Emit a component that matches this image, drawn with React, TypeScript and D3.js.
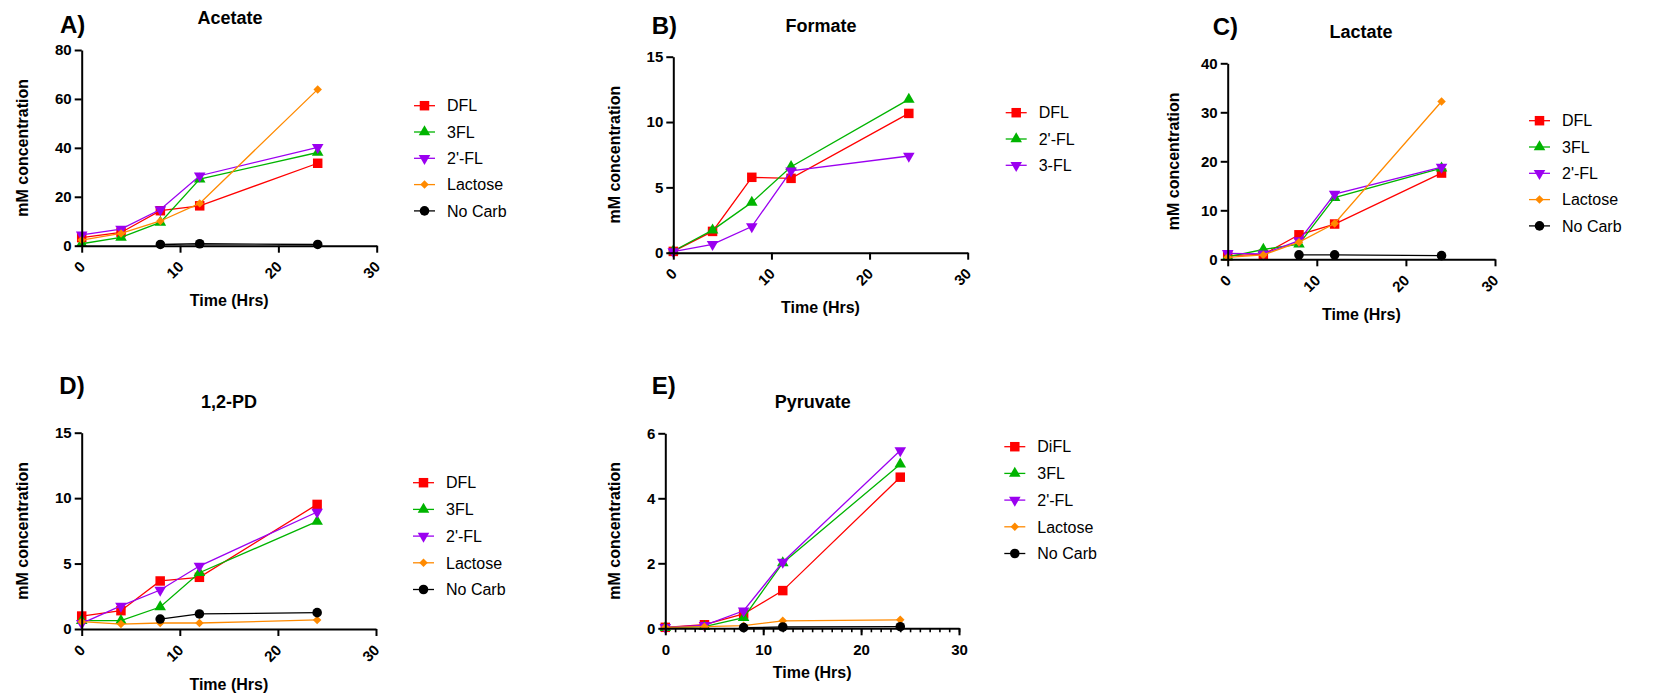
import React, { useEffect, useRef } from 'react';
import * as d3 from 'd3';

// sampling times (hours)
const times = [0, 4, 8, 12, 24];
const noCarbTimes = [8, 12, 24];
const xTicks = [0, 10, 20, 30];

// A) Acetate
const acetateDFL = [3.3, 5.4, 14.3, 16.3, 33.7];
const acetate3FL = [0.8, 3.4, 9.5, 27.2, 38.1];
const acetate2FL = [4.4, 6.8, 14.8, 28.6, 40.2];
const acetateLactose = [2.3, 5.0, 10.1, 17.3, 63.9];
const acetateNoCarb = [0.5, 0.8, 0.5];

// B) Formate
const formateDFL = [0.1, 1.63, 5.77, 5.69, 10.66];
const formate2FL = [0.13, 1.73, 3.85, 6.58, 11.73];
const formate3FL = [0.08, 0.64, 2.0, 6.27, 7.4];

// C) Lactate
const lactateDFL = [0.75, 1.0, 5.0, 7.2, 17.6];
const lactate3FL = [0.5, 2.0, 3.1, 12.6, 18.6];
const lactate2FL = [1.2, 1.1, 3.8, 13.3, 18.8];
const lactateLactose = [0.4, 0.9, 3.5, 7.3, 32.2];
const lactateNoCarb = [0.9, 0.9, 0.75];

// D) 1,2-PD
const pdDFL = [0.99, 1.4, 3.67, 3.95, 9.52];
const pd3FL = [0.64, 0.64, 1.68, 4.3, 8.22];
const pd2FL = [0.43, 1.76, 2.98, 4.81, 8.94];
const pdLactose = [0.56, 0.38, 0.46, 0.46, 0.69];
const pdNoCarb = [0.76, 1.15, 1.25];

// E) Pyruvate
const pyrDiFL = [0.03, 0.11, 0.44, 1.16, 4.65];
const pyr3FL = [0.02, 0.05, 0.33, 2.01, 5.05];
const pyr2FL = [0.03, 0.09, 0.54, 2.04, 5.47];
const pyrLactose = [0.03, 0.05, 0.08, 0.23, 0.26];
const pyrNoCarb = [0.02, 0.04, 0.05];

const RED = '#ff0000';
const GREEN = '#00b400';
const PURPLE = '#9b00f0';
const ORANGE = '#ff8a00';
const BLACK = '#000000';

const FONT = '"Liberation Sans", Arial, sans-serif';

type Series = { name: string; color: string; shape: string; t: number[]; v: number[] };

const mk = (name: string, color: string, shape: string, t: number[], v: number[]): Series =>
  ({ name, color, shape, t, v });

const panels = [
  {
    tag: 'A)', title: 'Acetate', yMax: 80, yStep: 20, rotate: true, minor: false,
    left: 81.7, right: 376.7, top: 50, bottom: 245.7,
    titleX: 230, titleY: 24, tagX: 60, tagY: 33,
    legX: 414, legY: 105.7, legStep: 26.3, xLabY: 306, yLabX: 28,
    series: [
      mk('DFL', RED, 'square', times, acetateDFL),
      mk('3FL', GREEN, 'up', times, acetate3FL),
      mk("2'-FL", PURPLE, 'down', times, acetate2FL),
      mk('Lactose', ORANGE, 'diamond', times, acetateLactose),
      mk('No Carb', BLACK, 'circle', noCarbTimes, acetateNoCarb),
    ],
  },
  {
    tag: 'B)', title: 'Formate', yMax: 15, yStep: 5, rotate: true, minor: false,
    left: 673.3, right: 967.7, top: 56.7, bottom: 252.7,
    titleX: 821, titleY: 32.3, tagX: 651.7, tagY: 34,
    legX: 1005.7, legY: 112.7, legStep: 26.3, xLabY: 313.3, yLabX: 620,
    series: [
      mk('DFL', RED, 'square', times, formateDFL),
      mk("2'-FL", GREEN, 'up', times, formate2FL),
      mk('3-FL', PURPLE, 'down', times, formate3FL),
    ],
  },
  {
    tag: 'C)', title: 'Lactate', yMax: 40, yStep: 10, rotate: true, minor: false,
    left: 1227.7, right: 1495, top: 63.3, bottom: 259.3,
    titleX: 1361, titleY: 38, tagX: 1212.7, tagY: 34.5,
    legX: 1529, legY: 120.7, legStep: 26.3, xLabY: 320, yLabX: 1179,
    series: [
      mk('DFL', RED, 'square', times, lactateDFL),
      mk('3FL', GREEN, 'up', times, lactate3FL),
      mk("2'-FL", PURPLE, 'down', times, lactate2FL),
      mk('Lactose', ORANGE, 'diamond', times, lactateLactose),
      mk('No Carb', BLACK, 'circle', noCarbTimes, lactateNoCarb),
    ],
  },
  {
    tag: 'D)', title: '1,2-PD', yMax: 15, yStep: 5, rotate: true, minor: false,
    left: 81.7, right: 376, top: 432.7, bottom: 629,
    titleX: 229, titleY: 408, tagX: 59.3, tagY: 394,
    legX: 413, legY: 482.7, legStep: 26.7, xLabY: 690, yLabX: 28,
    series: [
      mk('DFL', RED, 'square', times, pdDFL),
      mk('3FL', GREEN, 'up', times, pd3FL),
      mk("2'-FL", PURPLE, 'down', times, pd2FL),
      mk('Lactose', ORANGE, 'diamond', times, pdLactose),
      mk('No Carb', BLACK, 'circle', noCarbTimes, pdNoCarb),
    ],
  },
  {
    tag: 'E)', title: 'Pyruvate', yMax: 6, yStep: 2, rotate: false, minor: true,
    left: 665.3, right: 959, top: 433.3, bottom: 628.3,
    titleX: 812.7, titleY: 407.7, tagX: 651.7, tagY: 394,
    legX: 1004.3, legY: 446.7, legStep: 26.7, xLabY: 678, yLabX: 620,
    series: [
      mk('DiFL', RED, 'square', times, pyrDiFL),
      mk('3FL', GREEN, 'up', times, pyr3FL),
      mk("2'-FL", PURPLE, 'down', times, pyr2FL),
      mk('Lactose', ORANGE, 'diamond', times, pyrLactose),
      mk('No Carb', BLACK, 'circle', noCarbTimes, pyrNoCarb),
    ],
  },
];

function marker(shape: string) {
  switch (shape) {
    case 'square': return d3.symbol().type(d3.symbolSquare).size(90)();
    case 'up': return d3.symbol().type(d3.symbolTriangle).size(58)();
    case 'down': return d3.symbol().type(d3.symbolTriangle).size(58)();
    case 'diamond': return d3.symbol().type(d3.symbolSquare).size(36)();
    default: return d3.symbol().type(d3.symbolCircle).size(72)();
  }
}

function rot(shape: string) {
  if (shape === 'down') return ' rotate(180)';
  if (shape === 'diamond') return ' rotate(45)';
  return '';
}

function Panel({ p }: { p: any }) {
  const xRef = useRef<SVGGElement>(null);
  const xMinorRef = useRef<SVGGElement>(null);
  const yRef = useRef<SVGGElement>(null);

  const x = d3.scaleLinear().domain([0, 30]).range([p.left, p.right]);
  const y = d3.scaleLinear().domain([0, p.yMax]).range([p.bottom, p.top]);
  const line = d3.line<[number, number]>().x(d => x(d[0])).y(d => y(d[1]));

  useEffect(() => {
    const yAxis = d3.axisLeft(y).tickValues(d3.range(0, p.yMax + 0.001, p.yStep))
      .tickFormat(d3.format('~g') as any)
      .tickSize(7).tickSizeOuter(0).tickPadding(3);
    const gy = d3.select(yRef.current!).call(yAxis as any);
    gy.attr('font-family', FONT).attr('font-size', 15).attr('font-weight', 'bold');
    gy.selectAll('path, line').attr('stroke', '#000').attr('stroke-width', 2);
    gy.selectAll('text').attr('fill', '#000');

    const xAxis = d3.axisBottom(x).tickValues(xTicks).tickFormat(d3.format('d') as any)
      .tickSize(7).tickSizeOuter(0).tickPadding(9);
    const gx = d3.select(xRef.current!).call(xAxis as any);
    gx.attr('font-family', FONT).attr('font-size', 15).attr('font-weight', 'bold');
    gx.selectAll('path, line').attr('stroke', '#000').attr('stroke-width', 2);
    gx.selectAll('text').attr('fill', '#000');
    if (p.rotate) {
      gx.selectAll('text')
        .attr('x', 0).attr('y', 0).attr('dy', 0)
        .attr('text-anchor', 'end')
        .attr('transform', 'translate(4,22) rotate(-45)');
    }
    if (p.minor) {
      const minorAxis = d3.axisBottom(x).tickValues(d3.range(0, 31)).tickSize(4)
        .tickSizeOuter(0).tickFormat(() => '');
      const gm = d3.select(xMinorRef.current!).call(minorAxis as any);
      gm.select('.domain').remove();
      gm.selectAll('line').attr('stroke', '#000').attr('stroke-width', 1.6);
    }
  }, []);

  const yMid = (p.top + p.bottom) / 2;
  const xMid = (p.left + p.right) / 2;

  return (
    <g>
      <text x={p.tagX} y={p.tagY} fontFamily={FONT} fontSize={24} fontWeight="bold">{p.tag}</text>
      <text x={p.titleX} y={p.titleY} fontFamily={FONT} fontSize={18} fontWeight="bold" textAnchor="middle">{p.title}</text>
      <text transform={`translate(${p.yLabX},${yMid}) rotate(-90)`} fontFamily={FONT} fontSize={16}
        fontWeight="bold" textAnchor="middle">mM concentration</text>
      <text x={xMid} y={p.xLabY} fontFamily={FONT} fontSize={16} fontWeight="bold" textAnchor="middle">Time (Hrs)</text>

      {p.series.map((s: Series) => {
        const pts = s.t.map((t, i) => [t, s.v[i]] as [number, number]);
        return (
          <g key={s.name}>
            <path d={line(pts) || ''} fill="none" stroke={s.color} strokeWidth={1.3} />
            {pts.map((d, i) => (
              <path key={i} d={marker(s.shape) || ''} fill={s.color}
                transform={`translate(${x(d[0])},${y(d[1])})${rot(s.shape)}`} />
            ))}
          </g>
        );
      })}

      <g ref={xMinorRef} transform={`translate(0,${p.bottom})`} />
      <g ref={xRef} transform={`translate(0,${p.bottom})`} />
      <g ref={yRef} transform={`translate(${p.left},0)`} />

      {p.series.map((s: Series, i: number) => {
        const ly = p.legY + i * p.legStep;
        return (
          <g key={'leg' + s.name}>
            <line x1={p.legX} x2={p.legX + 21} y1={ly} y2={ly} stroke={s.color} strokeWidth={1.3} />
            <path d={marker(s.shape) || ''} fill={s.color}
              transform={`translate(${p.legX + 10.5},${ly})${rot(s.shape)}`} />
            <text x={p.legX + 33} y={ly} dy="0.36em" fontFamily={FONT} fontSize={16}>{s.name}</text>
          </g>
        );
      })}
    </g>
  );
}

export default function App() {
  return (
    <div style={{ position: 'absolute', left: 0, top: 0 }}>
      <svg width={1675} height={696} style={{ display: 'block', background: '#fff' }}>
        {panels.map(p => <Panel key={p.tag} p={p} />)}
      </svg>
    </div>
  );
}
